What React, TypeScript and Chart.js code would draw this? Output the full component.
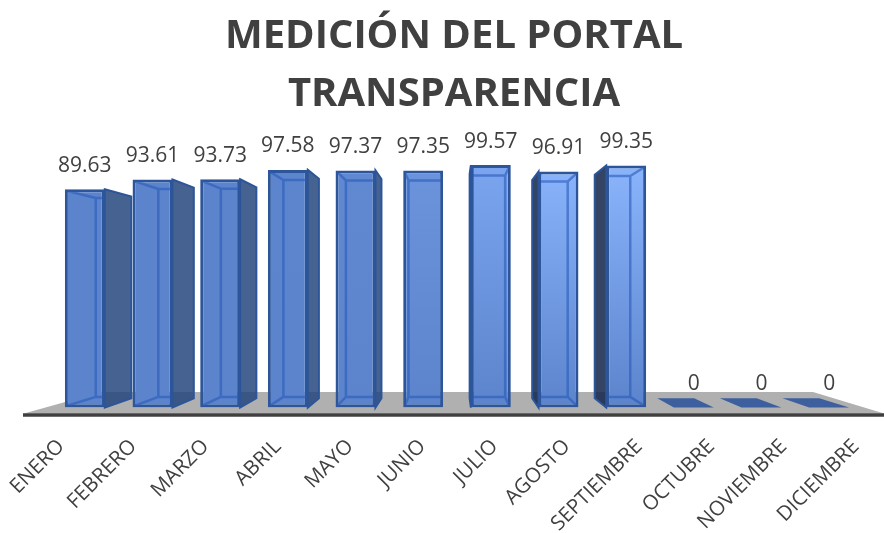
import React, { useEffect, useRef } from "react";
import { Chart, registerables } from "chart.js";

Chart.register(...registerables);

const months = ["ENERO", "FEBRERO", "MARZO", "ABRIL", "MAYO", "JUNIO", "JULIO", "AGOSTO", "SEPTIEMBRE", "OCTUBRE", "NOVIEMBRE", "DICIEMBRE"];
const values = [89.63, 93.61, 93.73, 97.58, 97.37, 97.35, 99.57, 96.91, 99.35, 0, 0, 0];
const titleLines = ["MEDICIÓN DEL PORTAL", "TRANSPARENCIA"];
const frontTopColors = ["#5b84cc", "#5b84cc", "#5b84cc", "#5c85ce", "#6089d2", "#6b94dd", "#7ba5ef", "#8ab4fb", "#8ab4fb", "#3f639f", "#3f639f", "#3f639f"];

const INK = "#404040";
const FONT = "'Open Sans'";
const EDGE = "#2d5599";
const INNER = "rgba(40,90,185,0.6)";
const DEPTH = 0.0757;
const LABEL_SPREAD = 1.068;
const LABEL_SHIFT = 1.5;

const threeD = {
  id: "threeD",
  beforeDatasetsDraw(chart: any) {
    const { ctx, chartArea } = chart;
    const vx = chartArea.left + (chartArea.right - chartArea.left) * 0.497;
    const base = chartArea.bottom;
    const vy = base - 122;
    const back = (x: number, y: number) => [x + (vx - x) * DEPTH, y + (vy - y) * DEPTH];
    ctx.save();
    // floor
    ctx.fillStyle = "#b0b0b0";
    ctx.beginPath();
    ctx.moveTo(chartArea.left - 27, base + 6);
    ctx.lineTo(chartArea.left + 50, base - 15.5);
    ctx.lineTo(chartArea.right - 50, base - 15.5);
    ctx.lineTo(chartArea.right + 21, base + 6);
    ctx.closePath();
    ctx.fill();
    ctx.strokeStyle = INK;
    ctx.lineWidth = 3.5;
    ctx.beginPath();
    ctx.moveTo(chartArea.left - 28, base + 7.5);
    ctx.lineTo(chartArea.right + 21, base + 7.5);
    ctx.stroke();
    // side faces and zero-height plates
    const meta = chart.getDatasetMeta(0);
    meta.data.forEach((bar: any, i: number) => {
      const hw = bar.width / 2;
      const l = bar.x - hw;
      const r = bar.x + hw;
      const t = bar.y;
      const [blb, bbl] = back(l, base);
      const [brb, bbr] = back(r, base);
      if (values[i] === 0) {
        ctx.fillStyle = "#3d5f9e";
        ctx.beginPath();
        ctx.moveTo(l, base);
        ctx.lineTo(r, base);
        ctx.lineTo(brb, bbr);
        ctx.lineTo(blb, bbl);
        ctx.closePath();
        ctx.fill();
        return;
      }
      const isLeft = bar.x < vx;
      const fx = isLeft ? r : l;
      const [bx, byTop] = back(fx, t);
      const [, byBase] = back(fx, base);
      if ((isLeft && bx <= fx + 1) || (!isLeft && bx >= fx - 1)) return;
      ctx.fillStyle = isLeft ? "rgba(38,70,124,0.85)" : "rgba(22,40,78,0.87)";
      ctx.strokeStyle = EDGE;
      ctx.lineWidth = 2;
      ctx.beginPath();
      ctx.moveTo(fx, t);
      ctx.lineTo(bx, byTop);
      ctx.lineTo(bx, byBase);
      ctx.lineTo(fx, base);
      ctx.closePath();
      ctx.fill();
      ctx.stroke();
    });
    ctx.restore();
  },
  afterDatasetsDraw(chart: any) {
    const { ctx, chartArea } = chart;
    const vx = chartArea.left + (chartArea.right - chartArea.left) * 0.497;
    const base = chartArea.bottom;
    const vy = base - 122;
    const back = (x: number, y: number) => [x + (vx - x) * DEPTH, y + (vy - y) * DEPTH];
    const meta = chart.getDatasetMeta(0);
    ctx.save();
    meta.data.forEach((bar: any, i: number) => {
      if (values[i] !== 0) {
        const hw = bar.width / 2;
        const l = bar.x - hw + 1.5;
        const r = bar.x + hw - 1.5;
        const t = bar.y + 1.5;
        const b = base - 1.5;
        const [blx, bty] = back(l, t);
        const [brx] = back(r, t);
        const [, bby] = back(l, b);
        ctx.save();
        ctx.beginPath();
        ctx.rect(l, t, r - l, b - t);
        ctx.clip();
        ctx.strokeStyle = INNER;
        ctx.lineWidth = 2.5;
        ctx.beginPath();
        ctx.rect(blx, bty, brx - blx, bby - bty);
        ctx.moveTo(l, t);
        ctx.lineTo(blx, bty);
        ctx.moveTo(r, t);
        ctx.lineTo(brx, bty);
        ctx.moveTo(l, b);
        ctx.lineTo(blx, bby);
        ctx.moveTo(r, b);
        ctx.lineTo(brx, bby);
        ctx.stroke();
        ctx.restore();
      }
      // value label
      ctx.fillStyle = INK;
      ctx.font = `21px ${FONT}`;
      ctx.textAlign = "center";
      ctx.textBaseline = "middle";
      ctx.fillText(String(values[i]), bar.x, bar.y - 23.5);
    });
    ctx.restore();
  },
};

export default function App() {
  const ref = useRef<HTMLCanvasElement>(null);
  useEffect(() => {
    if (!ref.current) return;
    const chart = new Chart(ref.current, {
      type: "bar",
      data: {
        labels: months,
        datasets: [
          {
            data: values,
            barPercentage: 0.59,
            categoryPercentage: 1,
            borderColor: EDGE,
            borderWidth: 3,
            borderSkipped: false,
            backgroundColor: (c: any) => {
              const { chart: ch, dataIndex } = c;
              const area = ch.chartArea;
              const top = frontTopColors[dataIndex ?? 0];
              if (!area) return top;
              const g = ch.ctx.createLinearGradient(0, area.top, 0, area.bottom);
              g.addColorStop(0, top);
              g.addColorStop(1, "#5b84cc");
              return g;
            },
          },
        ],
      },
      options: {
        animation: false,
        responsive: false,
        layout: { padding: { left: 45, right: 21, top: 0, bottom: 0 } },
        plugins: {
          legend: { display: false },
          tooltip: { enabled: false },
          title: {
            display: true,
            text: titleLines,
            color: INK,
            font: { family: FONT, size: 40, weight: "bold", lineHeight: 1.45 },
            padding: { top: 7.5, bottom: 40.5 },
          },
        },
        scales: {
          x: {
            grid: { display: false },
            border: { display: false },
            ticks: {
              color: INK,
              font: { family: FONT, size: 20.5 },
              autoSkip: false,
              minRotation: 45,
              maxRotation: 45,
              padding: 19,
            },
            afterFit: (s: any) => {
              s.height = 125.5;
              s.paddingLeft = 0;
              s.paddingRight = 0;
              // the axis labels sit on a wider perspective plane than the bars' front faces
              if (!s.__spread) {
                s.__spread = true;
                const orig = s.getPixelForTick.bind(s);
                s.getPixelForTick = (i: number) => {
                  const mid = (s.left + s.right) / 2;
                  return mid + LABEL_SHIFT + (orig(i) - mid) * LABEL_SPREAD;
                };
              }
            },
          },
          y: {
            min: 0,
            max: 100,
            grid: { display: false },
            border: { display: false },
            ticks: { display: false },
            afterFit: (s: any) => {
              s.width = 6;
              s.paddingTop = 0;
              s.paddingBottom = 0;
            },
          },
        },
      },
      plugins: [threeD],
    } as any);
    return () => chart.destroy();
  }, []);
  return (
    <div style={{ position: "fixed", left: 0, top: 0, width: 884, height: 533, background: "#fff" }}>
      <canvas ref={ref} width={884} height={533} style={{ display: "block" }} />
    </div>
  );
}
